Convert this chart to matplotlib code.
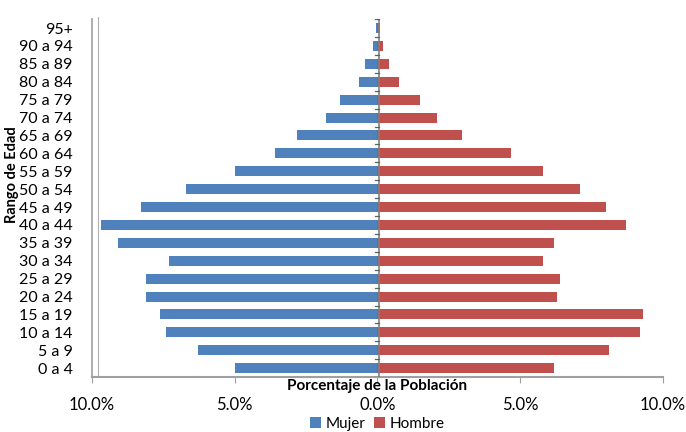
import numpy as np
import matplotlib
matplotlib.use("Agg")
from matplotlib import pyplot as plt

plt.rcParams['font.family'] = ['Lato', 'DejaVu Sans']

# datos de la piramide (porcentaje de la poblacion)
edades = ['0 a 4', '5 a 9', '10 a 14', '15 a 19', '20 a 24', '25 a 29', '30 a 34',
          '35 a 39', '40 a 44', '45 a 49', '50 a 54', '55 a 59', '60 a 64', '65 a 69',
          '70 a 74', '75 a 79', '80 a 84', '85 a 89', '90 a 94', '95+']
mujer = [5.0, 6.3, 7.4, 7.6, 8.1, 8.1, 7.3, 9.1, 9.7, 8.3,
         6.7, 5.0, 3.6, 2.8, 1.8, 1.3, 0.63, 0.45, 0.15, 0.05]
hombre = [6.2, 8.1, 9.2, 9.3, 6.3, 6.4, 5.8, 6.2, 8.7, 8.0,
          7.1, 5.8, 4.7, 2.95, 2.1, 1.5, 0.75, 0.4, 0.2, 0.1]
xticks = [-10, -5, 0, 5, 10]
xtick_labels = ['10.0%', '5.0%', '0.0%', '5.0%', '10.0%']

azul = '#4f81bd'
rojo = '#c0504d'

fig = plt.figure(figsize=(6.86, 4.32), dpi=100)
ax = fig.add_axes([0.1341, 0.127, 0.832, 0.8287])

y = np.arange(len(edades))
ax.barh(y, [-v for v in mujer], height=0.56, color=azul, label='Mujer', zorder=3)
ax.barh(y, hombre, height=0.56, color=rojo, label='Hombre', zorder=3)

ax.set_xlim(-10, 10)
ax.set_ylim(-0.5, len(edades) - 0.5)

# linea central con marcas
ax.axvline(0.05, color='#808080', lw=1.2, zorder=4)
for b in np.arange(-0.5, len(edades), 1):
    ax.plot([-0.1, 0.05], [b, b], color='#606060', lw=0.9, zorder=4)

# pared izquierda y piso
for s in ['top', 'right']:
    ax.spines[s].set_visible(False)
ax.spines['left'].set_color('#a0a0a0')
ax.spines['bottom'].set_color('#a0a0a0')
ax.spines['left'].set_linewidth(1.2)
ax.spines['bottom'].set_linewidth(1.5)
ax.plot([-9.8, -9.8], [-0.45, 19.6], color='#b0b0b0', lw=0.8, clip_on=False)

ax.set_yticks(y)
ax.set_yticklabels(edades, fontsize=11.5)
ax.tick_params(axis='y', length=0, pad=14)

ax.set_xticks(xticks)
ax.set_xticklabels(xtick_labels, fontsize=12)
ax.tick_params(axis='x', length=4, color='#a0a0a0', pad=10)

ax.set_xlabel('Porcentaje de la Población', fontsize=11, fontweight='bold')
ax.xaxis.set_label_coords(0.5, -0.006)
ax.set_ylabel('Rango de Edad', fontsize=10.5, fontweight='bold')
ax.yaxis.set_label_coords(-0.128, 0.567)

ax.legend(loc='upper center', bbox_to_anchor=(0.5, -0.094), ncol=2, frameon=False,
          fontsize=11, handlelength=0.7, handleheight=0.7, handletextpad=0.3,
          columnspacing=0.6, borderaxespad=0)

fig.savefig('out.png', dpi=100)
